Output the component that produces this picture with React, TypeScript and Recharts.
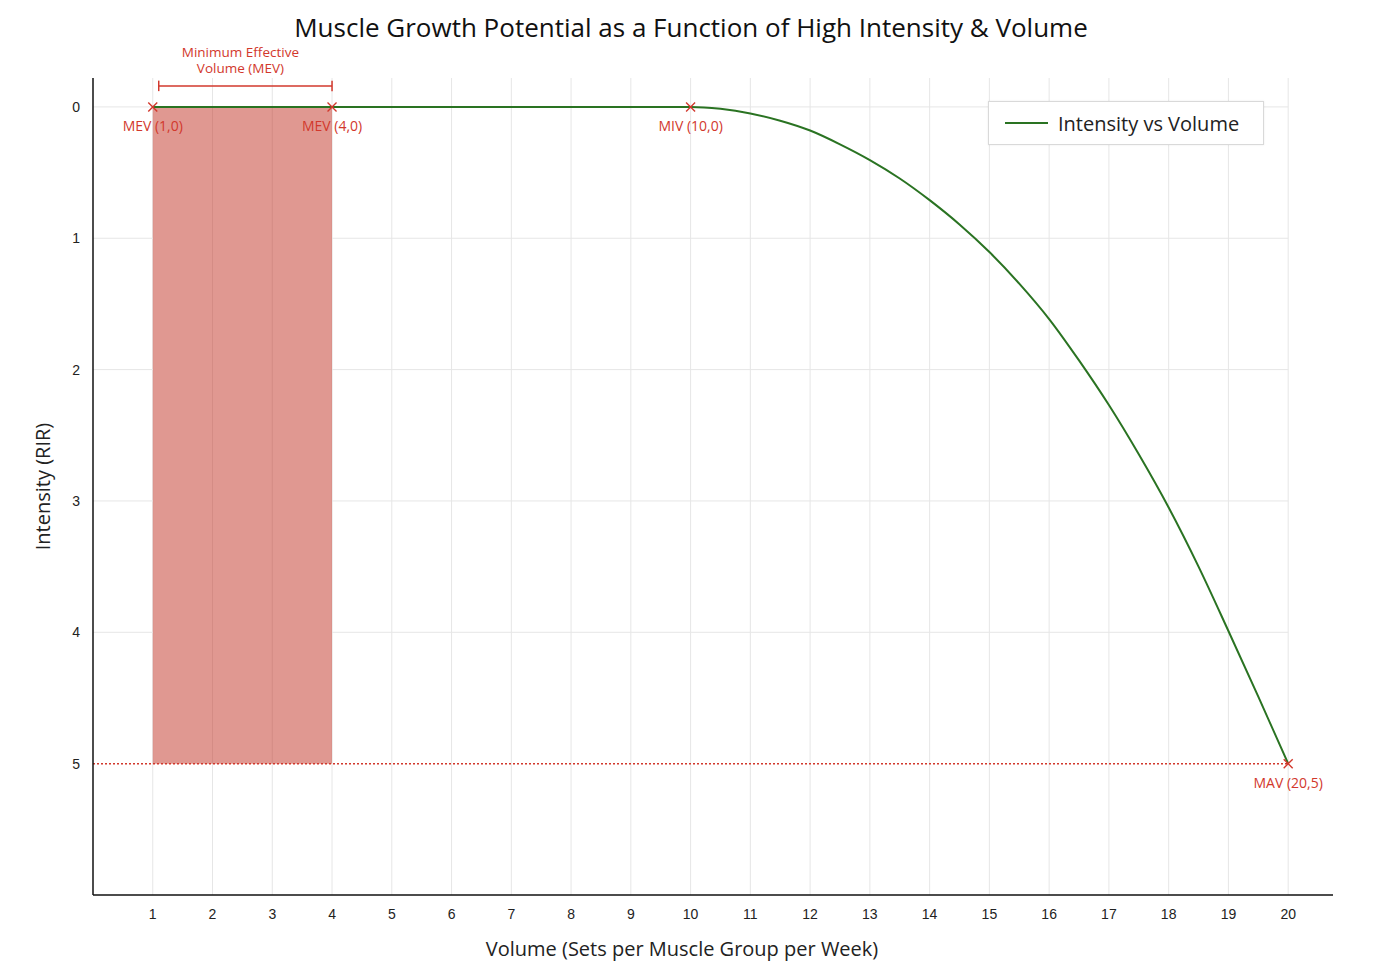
import {
  CartesianGrid,
  Legend,
  Line,
  LineChart,
  ReferenceArea,
  ReferenceLine,
  Scatter,
  XAxis,
  YAxis,
} from "recharts";

// curve (RIR at each set count)
const volumes = [
  1, 2, 3, 4, 5, 6, 7, 8, 9, 10, 10.5, 11, 11.5, 12, 12.5, 13, 13.5, 14, 14.5, 15, 15.5, 16, 16.5,
  17, 17.5, 18, 18.5, 19, 19.5, 20,
];
const intensity = [
  0, 0, 0, 0, 0, 0, 0, 0, 0, 0, 0.015, 0.05, 0.105, 0.18, 0.285, 0.405, 0.545, 0.71, 0.895, 1.105,
  1.345, 1.615, 1.93, 2.27, 2.645, 3.05, 3.5, 3.99, 4.49, 5.0,
];

const xTicks = [1, 2, 3, 4, 5, 6, 7, 8, 9, 10, 11, 12, 13, 14, 15, 16, 17, 18, 19, 20];
const yTicks = [0, 1, 2, 3, 4, 5];
const xDomain = [0, 20.75];

const markerX = [1, 4, 10, 20];
const markerY = [0, 0, 0, 5];
const markerLabels = ["MEV (1,0)", "MEV (4,0)", "MIV (10,0)", "MAV (20,5)"];

const mevStart = 1;
const mevEnd = 4;
const mavLevel = 5;

const GREEN = "#2a7322";
const RED = "#d2382c";
const GRID = "#e6e6e6";

const curveData = volumes.map((v, i) => ({ volume: v, rir: intensity[i] }));
const markerData = markerX.map((x, i) => ({ volume: x, rir: markerY[i], label: markerLabels[i] }));

// grid only at the tick positions (no line at the right edge)
const gridX = (props: any) => {
  const s = props?.xAxis?.scale;
  if (typeof s === "function") return xTicks.map((t) => s(t));
  const { left, width } = props.offset;
  return xTicks.map((t) => left + ((t - xDomain[0]) / (xDomain[1] - xDomain[0])) * width);
};

const XMark = (props: any) => {
  const { cx, cy, payload } = props;
  const s = 4.5;
  return (
    <g>
      <line x1={cx - s} y1={cy - s} x2={cx + s} y2={cy + s} stroke={RED} strokeWidth={1.4} />
      <line x1={cx - s} y1={cy + s} x2={cx + s} y2={cy - s} stroke={RED} strokeWidth={1.4} />
      <text
        x={cx}
        y={cy + 24}
        textAnchor="middle"
        fill={RED}
        fontSize={14}
        fontFamily="Open Sans"
      >
        {payload.label}
      </text>
    </g>
  );
};

const BracketLabel = (props: any) => {
  const { viewBox } = props;
  const cx = viewBox.x + viewBox.width / 2 - 5;
  return (
    <g fill={RED} fontSize={13.5} fontFamily="Open Sans">
      <text x={cx} y={viewBox.y - 29} textAnchor="middle">
        Minimum Effective
      </text>
      <text x={cx} y={viewBox.y - 13} textAnchor="middle">
        Volume (MEV)
      </text>
    </g>
  );
};

const LegendBox = () => (
  <div
    style={{
      width: 274,
      height: 42,
      border: "1px solid #d9d9d9",
      background: "#fff",
      boxShadow: "0 0 2px rgba(0,0,0,0.08)",
      display: "flex",
      alignItems: "center",
      fontFamily: "Open Sans",
      fontSize: 20,
      color: "#222",
    }}
  >
    <div style={{ width: 43, height: 2, background: GREEN, marginLeft: 16, marginRight: 10 }} />
    <span>Intensity vs Volume</span>
  </div>
);

export default function App() {
  return (
    <div style={{ position: "absolute", left: 0, top: 0, width: 1375, height: 976, background: "#fff" }}>
      <div
        style={{
          position: "absolute",
          left: 0,
          width: 1382,
          top: 9,
          textAlign: "center",
          fontFamily: "Open Sans",
          fontSize: 26,
          color: "#111",
        }}
      >
        Muscle Growth Potential as a Function of High Intensity &amp; Volume
      </div>
      <LineChart
        width={1375}
        height={976}
        data={curveData}
        margin={{ top: 78, right: 42, left: 0, bottom: 0 }}
      >
        <CartesianGrid
          vertical
          horizontal={false}
          stroke={GRID}
          strokeWidth={1}
          verticalCoordinatesGenerator={gridX}
        />
        <XAxis
          dataKey="volume"
          type="number"
          domain={xDomain}
          ticks={xTicks}
          allowDataOverflow
          height={81}
          tickLine={false}
          tickSize={0}
          tickMargin={14}
          axisLine={{ stroke: "#111", strokeWidth: 1.5 }}
          tick={{ fill: "#222", fontSize: 14, fontFamily: "Liberation Sans" }}
          label={(p: any) => (
            <text
              x={p.viewBox.x + p.viewBox.width / 2 - 31}
              y={p.viewBox.y + 61}
              textAnchor="middle"
              fontSize={20}
              fontFamily="Open Sans"
              fill="#222"
            >
              Volume (Sets per Muscle Group per Week)
            </text>
          )}
        />
        <YAxis
          type="number"
          domain={[-0.22, 6]}
          reversed
          ticks={yTicks}
          allowDataOverflow
          width={93}
          tickLine={false}
          tickSize={0}
          tickMargin={13}
          axisLine={{ stroke: "#111", strokeWidth: 1.5 }}
          tick={{ fill: "#222", fontSize: 14, fontFamily: "Liberation Sans" }}
          label={(p: any) => {
            const x = p.viewBox.x + 42;
            const y = p.viewBox.y + p.viewBox.height / 2;
            return (
              <text
                x={x}
                y={y}
                transform={`rotate(-90 ${x} ${y})`}
                textAnchor="middle"
                dominantBaseline="central"
                fontSize={20}
                fontFamily="Open Sans"
                fill="#222"
              >
                Intensity (RIR)
              </text>
            );
          }}
        />
        {yTicks.slice(0, 5).map((t) => (
          <ReferenceLine
            key={`l${t}`}
            segment={[
              { x: 0, y: t },
              { x: mevStart, y: t },
            ]}
            stroke={GRID}
            strokeWidth={1}
          />
        ))}
        {yTicks.slice(0, 5).map((t) => (
          <ReferenceLine
            key={`r${t}`}
            segment={[
              { x: mevEnd, y: t },
              { x: 20, y: t },
            ]}
            stroke={GRID}
            strokeWidth={1}
          />
        ))}
        <ReferenceArea
          x1={mevStart}
          x2={mevEnd}
          y1={0}
          y2={mavLevel}
          fill="#c4392c"
          fillOpacity={0.52}
          stroke="none"
        />
        <ReferenceLine
          segment={[
            { x: 0, y: mavLevel },
            { x: 20, y: mavLevel },
          ]}
          stroke={RED}
          strokeWidth={1.5}
          strokeDasharray="2 2"
        />
        <ReferenceLine
          segment={[
            { x: 1.1, y: -0.16 },
            { x: mevEnd, y: -0.16 },
          ]}
          stroke={RED}
          strokeWidth={1.5}
          label={<BracketLabel />}
        />
        <ReferenceLine
          segment={[
            { x: 1.1, y: -0.2 },
            { x: 1.1, y: -0.12 },
          ]}
          stroke={RED}
          strokeWidth={1.5}
        />
        <ReferenceLine
          segment={[
            { x: mevEnd, y: -0.2 },
            { x: mevEnd, y: -0.12 },
          ]}
          stroke={RED}
          strokeWidth={1.5}
        />
        <Line
          type="monotone"
          dataKey="rir"
          name="Intensity vs Volume"
          stroke={GREEN}
          strokeWidth={2}
          dot={false}
          activeDot={false}
          isAnimationActive={false}
        />
        <Scatter
          data={markerData}
          dataKey="rir"
          shape={<XMark />}
          isAnimationActive={false}
          legendType="none"
        />
        <Legend
          layout="vertical"
          align="center"
          verticalAlign="middle"
          content={() => <LegendBox />}
          wrapperStyle={{ left: 988, top: 101, width: 276, height: 44 }}
        />
      </LineChart>
    </div>
  );
}
